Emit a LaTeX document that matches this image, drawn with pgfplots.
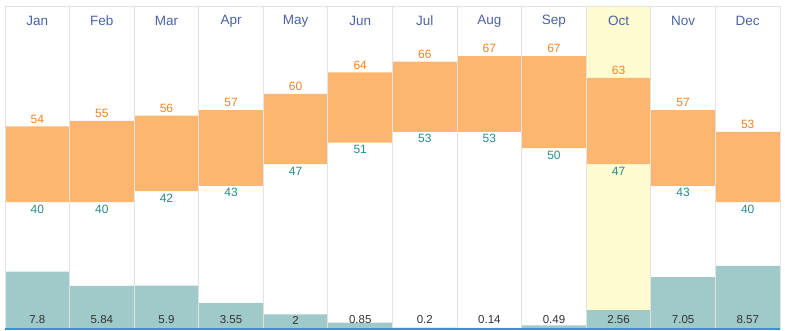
\documentclass[border=0pt]{standalone}
\usepackage{pgfplots}
\pgfplotsset{compat=1.18}
\usepackage{pgfplotstable}
\usepackage{fontspec}
\setmainfont{Liberation Sans}
\definecolor{barorange}{HTML}{FDB66F}
\definecolor{txtorange}{HTML}{F58220}
\definecolor{txtteal}{HTML}{258C8C}
\definecolor{barteal}{HTML}{A0C9C9}
\definecolor{monthblue}{HTML}{4A62A6}
\definecolor{hlyellow}{HTML}{FEFCD0}
\definecolor{gridgray}{HTML}{E2E2E2}
\definecolor{bottomblue}{HTML}{3D8FDB}
\definecolor{txtdark}{HTML}{333333}

\pgfplotstableread{
x m hi lo diff pr my py
0 Jan 54 40 14 7.8 41.8 1.22
1 Feb 55 40 15 5.84 41.8 1.22
2 Mar 56 42 14 5.9 41.8 1.22
3 Apr 57 43 14 3.55 41.8 1.22
4 May 60 47 13 2 41.8 1.22
5 Jun 64 51 13 0.85 41.8 1.22
6 Jul 66 53 13 0.2 41.8 1.22
7 Aug 67 53 14 0.14 41.8 1.22
8 Sep 67 50 17 0.49 41.8 1.22
9 Oct 63 47 16 2.56 41.8 1.22
10 Nov 57 43 14 7.05 41.8 1.22
11 Dec 53 40 13 8.57 41.8 1.22
}\data

\pgfplotsset{
  base/.style={at={(0,0)}, anchor=south west, scale only axis,
    width=775bp, height=322bp, xmin=-0.5, xmax=11.5, clip=false},
}

\begin{document}
\begin{tikzpicture}
\useasboundingbox (-5bp,-2bp) rectangle (780bp,329bp);
% precipitation axis
\begin{axis}[base, hide axis, ymin=0, ymax=43.7]
\addplot[ybar, bar width=1, bar shift=0pt, fill=hlyellow, draw=none] coordinates {(9,43.7)};
\addplot[ybar, bar width=1, bar shift=0pt, fill=barteal, draw=none] table[x=x, y=pr] {\data};
\addplot[draw=none, mark=none, nodes near coords, point meta=explicit symbolic,
  every node near coord/.append style={anchor=center, inner sep=0pt, text=txtdark, font=\fontsize{11.5bp}{13bp}\selectfont}]
  table[x=x, y=py, meta=pr] {\data};
\addplot[draw=none, mark=none, nodes near coords, point meta=explicit symbolic,
  every node near coord/.append style={anchor=center, inner sep=0pt, text=monthblue, font=\fontsize{13.5bp}{15bp}\selectfont}]
  table[x=x, y=my, meta=m] {\data};
\end{axis}
% temperature bars
\begin{axis}[base, hide axis, ymin=16.5, ymax=76.1, ybar stacked, bar width=1, clip=true]
\addplot[draw=none, fill=none] table[x=x, y=lo] {\data};
\addplot[draw=none, fill=barorange] table[x=x, y=diff] {\data};
\end{axis}
% grid and temperature labels
\begin{axis}[base, ymin=16.5, ymax=76.1, axis on top,
  xtick={0.5,1.5,...,10.5}, xticklabels={}, ytick=\empty, major tick length=0pt,
  xmajorgrids, major grid style={gridgray, line width=1bp},
  axis line style={gridgray, line width=1bp}]
\addplot[draw=none, mark=none, nodes near coords, point meta=explicit symbolic,
  every node near coord/.append style={anchor=south, inner sep=0pt, yshift=3bp, text=txtorange, font=\fontsize{12bp}{14bp}\selectfont}]
  table[x=x, y=hi, meta=hi] {\data};
\addplot[draw=none, mark=none, nodes near coords, point meta=explicit symbolic,
  every node near coord/.append style={anchor=north, inner sep=0pt, yshift=-2.5bp, text=txtteal, font=\fontsize{12bp}{14bp}\selectfont}]
  table[x=x, y=lo, meta=lo] {\data};
\end{axis}
\draw[bottomblue, line width=1.6bp] (0,0) -- (775bp,0);
\end{tikzpicture}
\end{document}
